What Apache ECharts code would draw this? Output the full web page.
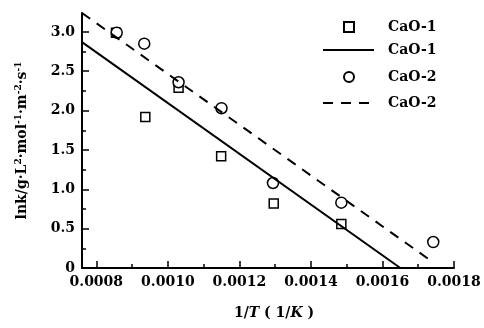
<!DOCTYPE html>
<html>
<head>
<meta charset="utf-8">
<script src="https://cdn.jsdelivr.net/npm/echarts@6/dist/echarts.min.js"></script>
<style>
  html, body { margin: 0; padding: 0; background: #fff; }
  #chart { width: 484px; height: 328px; }
</style>
</head>
<body>
<div id="chart"></div>
<script>
// 数据点 (1/T, lnk)
var cao1Points = [[0.000855, 2.99], [0.000937, 1.92], [0.00103, 2.29], [0.001149, 1.42], [0.001296, 0.82], [0.001485, 0.56]];
var cao2Points = [[0.000857, 2.99], [0.000934, 2.85], [0.00103, 2.36], [0.00115, 2.03], [0.001294, 1.08], [0.001485, 0.83], [0.001742, 0.33]];
// 拟合直线的两端
var cao1Fit = [[0.00076, 2.87], [0.00165, 0]];
var cao2Fit = [[0.00076, 3.24], [0.00173, 0.11]];

// 刻度
var xMajor = [0.0008, 0.0010, 0.0012, 0.0014, 0.0016, 0.0018];
var xMinor = [0.0009, 0.0011, 0.0013, 0.0015, 0.0017];
var yMajor = [0, 0.5, 1.0, 1.5, 2.0, 2.5, 3.0];
var yMinor = [0.25, 0.75, 1.25, 1.75, 2.25, 2.75];

var font = 'DejaVu Serif';
var chart = echarts.init(document.getElementById('chart'));

var xRange = { min: 0.00076, max: 0.0018 };
var yRange = { min: 0, max: 3.24 };

var legendText = { fontFamily: font, fontSize: 14, fontWeight: 'bold', color: '#000', lineHeight: 16 };
var trimName = function (name) { return name.trim(); };

var option = {
  animation: false,
  textStyle: { fontFamily: font, color: '#000' },
  grid: { left: 82, right: 30, top: 13, bottom: 60 },
  legend: [{
    // 散点图例
    left: 338,
    top: 14,
    orient: 'vertical',
    itemWidth: 10,
    itemHeight: 10,
    itemGap: 34,
    symbolKeepAspect: true,
    data: ['CaO-1', 'CaO-2'],
    formatter: trimName,
    textStyle: Object.assign({ padding: [0, 0, 0, 29] }, legendText)
  }, {
    // 直线图例
    left: 317,
    top: 37,
    orient: 'vertical',
    itemWidth: 51,
    itemHeight: 10,
    itemGap: 37,
    data: ['CaO-1 ', 'CaO-2 '],
    formatter: trimName,
    itemStyle: { color: 'rgba(0,0,0,0)', borderColor: 'rgba(0,0,0,0)', borderWidth: 0 },
    textStyle: Object.assign({ padding: [0, 0, 0, 9] }, legendText)
  }],
  xAxis: [{
    type: 'value',
    min: xRange.min,
    max: xRange.max,
    name: '1/{i|T} ( 1/{i|K} )',
    nameLocation: 'middle',
    nameGap: 38,
    nameTextStyle: {
      fontFamily: font, fontSize: 14, fontWeight: 'bold', color: '#000', padding: [0, 0, 0, 12],
      rich: { i: { fontFamily: font, fontSize: 14, fontWeight: 'bold', fontStyle: 'italic', color: '#000' } }
    },
    splitLine: { show: false },
    axisLine: { lineStyle: { color: '#000', width: 2 } },
    axisTick: { inside: true, length: 7, customValues: xMajor, lineStyle: { color: '#000', width: 1.5 } },
    axisLabel: {
      customValues: xMajor, margin: 7, fontSize: 14, fontWeight: 'bold', color: '#000',
      formatter: function (v) { return v.toFixed(4); }
    }
  }, {
    type: 'value',
    position: 'bottom',
    offset: 0,
    min: xRange.min,
    max: xRange.max,
    splitLine: { show: false },
    axisLine: { show: false },
    axisTick: { inside: true, length: 4, customValues: xMinor, lineStyle: { color: '#000', width: 1.5 } },
    axisLabel: { show: false }
  }],
  yAxis: [{
    type: 'value',
    min: yRange.min,
    max: yRange.max,
    name: 'lnk/g·L{s|2}·mol{s|-1}·m{s|-2}·s{s|-1}',
    nameLocation: 'middle',
    nameRotate: 90,
    nameGap: 52,
    nameTextStyle: {
      fontFamily: font, fontSize: 14, fontWeight: 'bold', color: '#000',
      rich: { s: { fontFamily: font, fontSize: 9, fontWeight: 'bold', color: '#000', verticalAlign: 'top', lineHeight: 16 } }
    },
    splitLine: { show: false },
    axisLine: { lineStyle: { color: '#000', width: 2 } },
    axisTick: { inside: true, length: 7, customValues: yMajor, lineStyle: { color: '#000', width: 1.5 } },
    axisLabel: {
      customValues: yMajor, margin: 7, fontSize: 14, fontWeight: 'bold', color: '#000',
      formatter: function (v) { return v === 0 ? '0' : v.toFixed(1); }
    }
  }, {
    type: 'value',
    position: 'left',
    offset: 0,
    min: yRange.min,
    max: yRange.max,
    splitLine: { show: false },
    axisLine: { show: false },
    axisTick: { inside: true, length: 4, customValues: yMinor, lineStyle: { color: '#000', width: 1.5 } },
    axisLabel: { show: false }
  }],
  series: [{
    name: 'CaO-1',
    type: 'scatter',
    symbol: 'rect',
    symbolSize: 9,
    symbolKeepAspect: true,
    data: cao1Points,
    itemStyle: { color: '#fff', borderColor: '#000', borderWidth: 1.5, opacity: 1 }
  }, {
    name: 'CaO-1 ',
    type: 'line',
    symbol: 'none',
    data: cao1Fit,
    lineStyle: { color: '#000', width: 2 },
    itemStyle: { color: '#000' }
  }, {
    name: 'CaO-2',
    type: 'scatter',
    symbol: 'circle',
    symbolSize: 11,
    data: cao2Points,
    itemStyle: { color: '#fff', borderColor: '#000', borderWidth: 1.5, opacity: 1 }
  }, {
    name: 'CaO-2 ',
    type: 'line',
    symbol: 'none',
    data: cao2Fit,
    lineStyle: { color: '#000', width: 2, type: [10, 8] },
    itemStyle: { color: '#000' }
  }]
};

chart.setOption(option);
</script>
</body>
</html>
